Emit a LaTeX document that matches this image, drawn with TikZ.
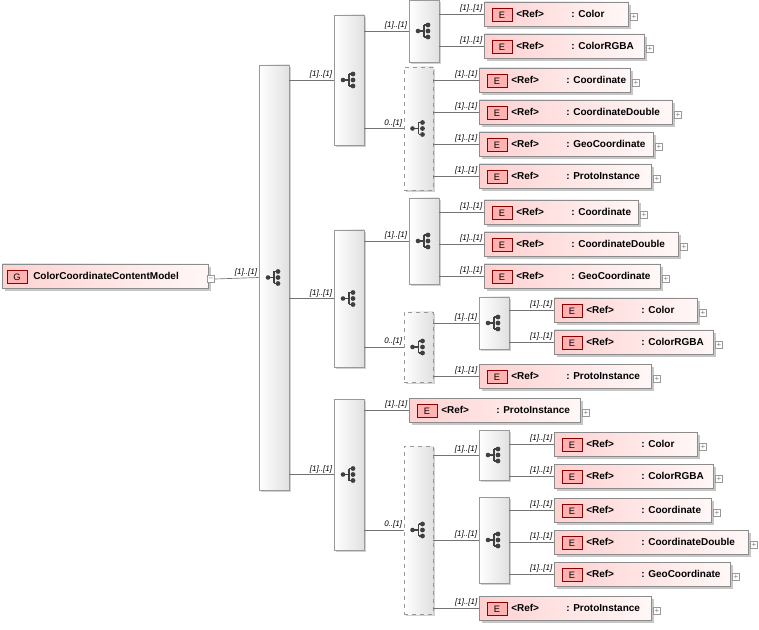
\documentclass[tikz,border=0pt]{standalone}
\usepackage{fontspec}
\setmainfont{Liberation Sans}
\begin{document}
\begin{tikzpicture}[x=0.75pt,y=-0.75pt,
  elem/.style={draw=black!45,rectangle,inner sep=0,left color=red!18,right color=red!3,minimum height=18pt},
  badge/.style={draw=red!55!black,fill=red!30,minimum width=15pt,minimum height=10pt,inner sep=0,font=\fontsize{7}{8}\selectfont},
  txt/.style={font=\bfseries\fontsize{7.5}{9}\selectfont,inner sep=0,anchor=west},
  pl/.style={draw=black!40,fill=white,minimum size=5.5pt,inner sep=0,font=\fontsize{6}{6}\selectfont,text=black!50},
  comp/.style={draw=black!40,rectangle,inner sep=0,left color=white,right color=black!12},
  opt/.style={comp,dashed},
  conn/.style={draw=black!55,line width=0.5pt},
  lab/.style={font=\itshape\fontsize{6}{7}\selectfont,inner sep=1pt}]
\useasboundingbox (0,0) rectangle (759,630);
\newcommand\El[5]{%
  \fill[black!22] (#2+3,#4-9) rectangle (#3+3,#4+15);
  \node[elem,minimum width={(#3-#2)*0.75pt},anchor=west] (#1) at (#2,#4) {};
  \node[badge] (#1b) at (#2+18,#4+1) {E};
  \node[txt] (#1r) at (#2+32,#4) {<Ref>};
  \node[txt] (#1n) at (#2+87,#4) {: #5};
  \node[pl] (#1p) at (#3+6,#4+3) {+};}
\newcommand\Comp[6]{%
  \fill[black!18] ({#2+2},{#4+2}) rectangle ({#3+2},{#5+2});
  \node[#6,minimum width={(#3-#2)*0.75pt},minimum height={(#5-#4)*0.75pt}] (#1) at ({(#2+#3)/2},{(#4+#5)/2}) {};
  \begin{scope}[shift={(#1.center)}]
   \draw[black!75,line width=1pt] (-6,0) -- (0,0) (0,-6) -- (0,6) (0,-6)--(4,-6) (0,6)--(4,6);
   \fill[black!75] (-6,0) circle (2.3) (4,-6) circle (2.4) (4,0) circle (2.4) (4,6) circle (2.4);
  \end{scope}}
\newcommand\Ed[3]{\draw[conn] (#1.east |- #2.west) -- (#2.west) node[lab,pos=1,anchor=south east] {#3};}
% root
\fill[black!22] (5,267) rectangle (211,291);
\node[elem,minimum width=154.5pt,anchor=west] (root) at (2,276) {};
\node[draw=red!55!black,fill=red!30,minimum width=15pt,minimum height=10pt,inner sep=0,font=\fontsize{7}{8}\selectfont] (rootb) at (17,277) {G};
\node[txt] (rootn) at (33,276) {ColorCoordinateContentModel};
\node[pl] (rootp) at (211,279) {--};
% compositors
\Comp{L}{259}{289}{65}{490}{comp}
\Comp{A}{334}{364}{15}{145}{comp}
\Comp{B}{334}{364}{230}{367}{comp}
\Comp{C}{334}{364}{399}{550}{comp}
\Comp{Aa}{409}{439}{0}{62}{comp}
\Comp{Ab}{404}{433}{67}{190}{opt}
\Comp{Ba}{409}{439}{198}{284}{comp}
\Comp{Bb}{404}{433}{312}{382}{opt}
\Comp{Bs}{479}{509}{297}{349}{comp}
\Comp{Cb}{404}{433}{446}{614}{opt}
\Comp{Cs}{479}{509}{430}{480}{comp}
\Comp{Ct}{479}{509}{497}{583}{comp}
% elements
\El{e1}{484}{628}{14}{Color}
\El{e2}{484}{644}{46}{ColorRGBA}
\El{e3}{479}{630}{80}{Coordinate}
\El{e4}{479}{672}{112}{CoordinateDouble}
\El{e5}{479}{653}{144}{GeoCoordinate}
\El{e6}{479}{651}{176}{ProtoInstance}
\El{e7}{484}{638}{212}{Coordinate}
\El{e8}{484}{678}{244}{CoordinateDouble}
\El{e9}{484}{660}{276}{GeoCoordinate}
\El{e10}{554}{697}{310}{Color}
\El{e11}{554}{713}{342}{ColorRGBA}
\El{e12}{479}{651}{376}{ProtoInstance}
\El{e13}{409}{580}{410}{ProtoInstance}
\El{e14}{554}{697}{444}{Color}
\El{e15}{554}{713}{476}{ColorRGBA}
\El{e16}{554}{711}{510}{Coordinate}
\El{e17}{554}{748}{542}{CoordinateDouble}
\El{e18}{554}{730}{574}{GeoCoordinate}
\El{e19}{479}{651}{608}{ProtoInstance}
% connectors
\draw[conn] (rootp.east) -- (L.west) node[lab,pos=1,anchor=south east] {[1]..[1]};
\Ed{L}{A}{[1]..[1]}\Ed{L}{B}{[1]..[1]}\Ed{L}{C}{[1]..[1]}
\Ed{A}{Aa}{[1]..[1]}\Ed{A}{Ab}{0..[1]}
\Ed{B}{Ba}{[1]..[1]}\Ed{B}{Bb}{0..[1]}
\Ed{C}{e13}{[1]..[1]}\Ed{C}{Cb}{0..[1]}
\Ed{Aa}{e1}{[1]..[1]}\Ed{Aa}{e2}{[1]..[1]}
\Ed{Ab}{e3}{[1]..[1]}\Ed{Ab}{e4}{[1]..[1]}\Ed{Ab}{e5}{[1]..[1]}\Ed{Ab}{e6}{[1]..[1]}
\Ed{Ba}{e7}{[1]..[1]}\Ed{Ba}{e8}{[1]..[1]}\Ed{Ba}{e9}{[1]..[1]}
\Ed{Bb}{Bs}{[1]..[1]}\Ed{Bb}{e12}{[1]..[1]}
\Ed{Bs}{e10}{[1]..[1]}\Ed{Bs}{e11}{[1]..[1]}
\Ed{Cb}{Cs}{[1]..[1]}\Ed{Cb}{Ct}{[1]..[1]}\Ed{Cb}{e19}{[1]..[1]}
\Ed{Cs}{e14}{[1]..[1]}\Ed{Cs}{e15}{[1]..[1]}
\Ed{Ct}{e16}{[1]..[1]}\Ed{Ct}{e17}{[1]..[1]}\Ed{Ct}{e18}{[1]..[1]}
\end{tikzpicture}
\end{document}
